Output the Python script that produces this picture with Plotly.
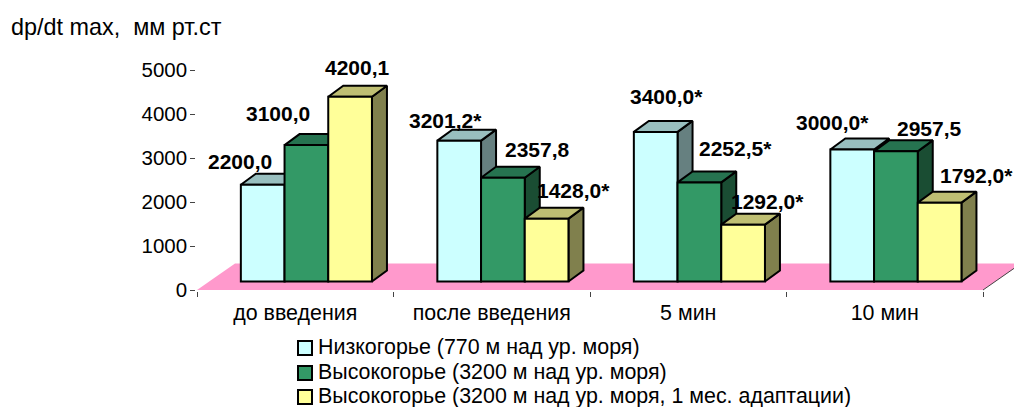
import plotly.graph_objects as go

categories = ["до введения", "после введения", "5 мин", "10 мин"]
series_names = ["Низкогорье (770 м над ур. моря)",
                "Высокогорье (3200 м над ур. моря)",
                "Высокогорье (3200 м над ур. моря, 1 мес. адаптации)"]
low_values = [2200.0, 3201.2, 3400.0, 3000.0]
high_values = [3100.0, 2357.8, 2252.5, 2957.5]
adapted_values = [4200.1, 1428.0, 1292.0, 1792.0]
low_labels = ["2200,0", "3201,2*", "3400,0*", "3000,0*"]
high_labels = ["3100,0", "2357,8", "2252,5*", "2957,5"]
adapted_labels = ["4200,1", "1428,0*", "1292,0*", "1792,0*"]
y_ticks = [0, 1000, 2000, 3000, 4000, 5000]

# style / layout
FONT = "Liberation Sans, Arial, sans-serif"
FS_Y = 20.5
FS_TEXT = 21.4
FS_BOLD = 21
FS_TITLE = 23.4
front_colors = ["#CCFFFF", "#339966", "#FFFF99"]
top_colors = ["#99BFBF", "#267350", "#BFBF73"]
side_colors = ["#668080", "#1A4D33", "#80804D"]
floor_color = "#FF99CC"
EDGE = "#000000"
AXIS = "#444444"
L, R, T, B = 197, 31, 70, 117
W, H = 1014, 407
PW, PH = W - L - R, H - T - B
px_x = PW / 4                   # pixels per category
px_y = PH / 5000                # pixels per value unit
bar_w = 43.7 / px_x
bar_off = -54.4 / px_x
floor_lift = 8.5 / px_y         # bars stand part-way back on the floor
depth_x, depth_y = 15 / px_x, 11 / px_y
floor_dx_px, floor_dy_px = 38, 26.5
# label offsets from the bar's top centre, pixels (x, y up)
label_shift = [
    [(-22.7, 23.7), (-14.2, 19.9), (10.3, 35.2), (-19.5, 27.5)],
    [(-28.4, 32.1), (34.1, 27.8), (36.3, 33.4), (33.1, 22.4)],
    [(6.9, 29.7), (26.4, 27.7), (23.9, 23.0), (36.4, 27.6)],
]
# legend geometry, pixels
legend_y = [348, 373, 397]
legend_box = (298, 312, 7)
legend_text_x = 318

all_values = [low_values, high_values, adapted_values]
all_labels = [low_labels, high_labels, adapted_labels]
positions = list(range(len(categories)))


def pxx(px):
    """page pixel x to paper fraction"""
    return (px - L) / PW


def pxy(py):
    """page pixel y to paper fraction"""
    return 1 - (py - T) / PH


fig = go.Figure()

annotations = []
# floor: reaches beyond the plot area, so it is a paper-anchored shape under the traces
fl, fr, fb = L, L + PW, T + PH
floor_pts = [(fl, fb), (fr, fb), (fr + floor_dx_px, fb - floor_dy_px), (fl + floor_dx_px, fb - floor_dy_px)]
floor_path = "M" + " L".join(f"{pxx(a):.5f},{pxy(b):.5f}" for a, b in floor_pts) + " Z"
shapes = [dict(type="path", path=floor_path, xref="paper", yref="paper", layer="below",
               fillcolor=floor_color, line=dict(width=0)),
          dict(type="line", xref="paper", yref="paper", layer="below",
               x0=pxx(fr), y0=pxy(fb), x1=pxx(fr + floor_dx_px), y1=pxy(fb - floor_dy_px),
               line=dict(color=AXIS, width=1))]

for s, (name, vals, labels) in enumerate(zip(series_names, all_values, all_labels)):
    off = bar_off + s * bar_w
    tx, ty, sx, sy = [], [], [], []
    for c, v in zip(positions, vals):
        xl = c + off
        xr = xl + bar_w
        top = floor_lift + v
        tx += [xl, xl + depth_x, xr + depth_x, xr, xl, None]
        ty += [top, top + depth_y, top + depth_y, top, top, None]
        sx += [xr, xr + depth_x, xr + depth_x, xr, xr, None]
        sy += [floor_lift, floor_lift + depth_y, top + depth_y, top, floor_lift, None]
        dx, dy = label_shift[s][c]
        annotations.append(dict(x=(xl + xr) / 2, y=top, xref="x", yref="y", text=labels[c],
                                showarrow=False, xanchor="center", yanchor="middle",
                                xshift=dx, yshift=dy,
                                font=dict(family=FONT, size=FS_BOLD, color="black", weight="bold")))
    z = 1 + 2 * s
    fig.add_trace(go.Scatter(x=sx, y=sy, mode="lines", fill="toself", fillcolor=side_colors[s],
                             line=dict(color=EDGE, width=2), showlegend=False, hoverinfo="skip",
                             cliponaxis=False, zorder=z))
    fig.add_trace(go.Scatter(x=tx, y=ty, mode="lines", fill="toself", fillcolor=top_colors[s],
                             line=dict(color=EDGE, width=2), showlegend=False, hoverinfo="skip",
                             cliponaxis=False, zorder=z))
    fig.add_trace(go.Bar(x=positions, y=vals, base=floor_lift, name=name, width=bar_w, offset=off,
                         marker=dict(color=front_colors[s], line=dict(color=EDGE, width=2)),
                         showlegend=False, cliponaxis=False, zorder=z + 1))
    # legend row
    x0, x1, hb = legend_box
    shapes.append(dict(type="rect", xref="paper", yref="paper", x0=pxx(x0), x1=pxx(x1),
                       y0=pxy(legend_y[s] + hb), y1=pxy(legend_y[s] - hb),
                       fillcolor=front_colors[s], line=dict(color=EDGE, width=2)))
    annotations.append(dict(xref="paper", yref="paper", x=pxx(legend_text_x),
                            y=pxy(legend_y[s] - 1.5), text=name, showarrow=False,
                            xanchor="left", yanchor="middle", xshift=-2,
                            font=dict(family=FONT, size=FS_TEXT, color="black")))

annotations.append(dict(xref="paper", yref="paper", x=pxx(9), y=pxy(27),
                        text="dp/dt max,  мм рт.ст",
                        showarrow=False, xanchor="left", yanchor="middle",
                        font=dict(family=FONT, size=FS_TITLE, color="black")))

fig.update_layout(
    width=W, height=H, margin=dict(l=L, r=R, t=T, b=B, pad=0, autoexpand=False),
    paper_bgcolor="white", plot_bgcolor="white", barmode="overlay",
    annotations=annotations, shapes=shapes,
    font=dict(family=FONT, size=FS_TEXT, color="black"),
    showlegend=False,
    xaxis=dict(range=[-0.5, 3.5], tickvals=positions, ticktext=categories, ticks="",
               minor=dict(tickvals=[p - 0.5 for p in positions] + [positions[-1] + 0.5],
                          ticks="outside", ticklen=5, tickwidth=1, tickcolor=AXIS, showgrid=False),
               showline=True, linecolor=AXIS, linewidth=1.5,
               showgrid=False, zeroline=False, fixedrange=True, ticklabelstandoff=3,
               tickfont=dict(family=FONT, size=FS_TEXT, color="black")),
    yaxis=dict(range=[0, 5000], tickvals=y_ticks, ticks="outside", ticklen=5, tickwidth=1,
               tickcolor=AXIS, showline=True, linecolor=AXIS, linewidth=1.5,
               showgrid=False, zeroline=False, fixedrange=True, ticklabelstandoff=-1,
               tickfont=dict(family=FONT, size=FS_Y, color="black"), tickformat="d"),
)

fig.write_html("out.html", config=dict(displayModeBar=False),
               post_script="document.body.style.margin='0';")
